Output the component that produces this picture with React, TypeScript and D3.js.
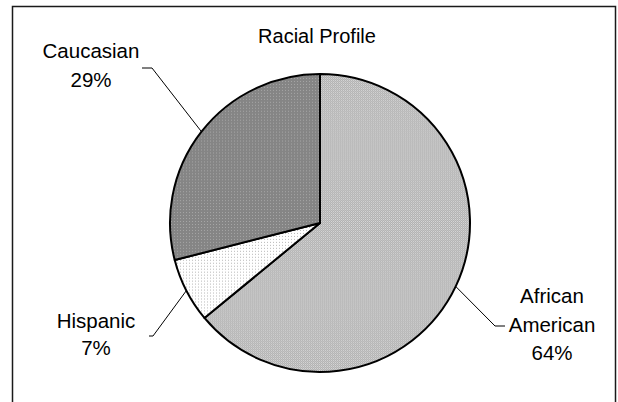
import React from "react";
import * as d3 from "d3";

const categories = ["African American", "Hispanic", "Caucasian"];
const values = [64, 7, 29];
const labelLines = [["African", "American", "64%"], ["Hispanic", "7%"], ["Caucasian", "29%"]];
const title = "Racial Profile";

const W = 618;
const H = 402;
const cx = 320;
const cy = 223;
const rx = 150;
const ry = 149;

// label layout: text centre, first baseline, line step, and leader elbow
const labelLayout = [
  { x: 552, y: 303, step: 28.5, elbow: [495, 326], end: [505, 326] },
  { x: 96, y: 328, step: 27, elbow: [153, 336], end: [149, 336] },
  { x: 91, y: 58, step: 29, elbow: [152, 68], end: [142, 68] },
];

const fills = ["url(#pAA)", "url(#pHi)", "url(#pCa)"];

export default function App() {
  const pie = d3.pie<number>().sort(null).value((d) => d);
  const arcs = pie(values);
  const arcGen = d3.arc<d3.PieArcDatum<number>>().innerRadius(0).outerRadius(rx);
  const font = "'Liberation Sans', Arial, sans-serif";

  return (
    <svg width={W} height={H} style={{ position: "absolute", left: 0, top: 0 }}>
      <defs>
        <pattern id="pAA" width={2} height={2} patternUnits="userSpaceOnUse">
          <rect width={2} height={2} fill="#c4c4c4" />
          <rect x={0} y={0} width={1} height={1} fill="#b2b2b2" />
          <rect x={1} y={1} width={1} height={1} fill="#b2b2b2" />
          <rect x={1} y={0} width={1} height={1} fill="#d6d6d6" />
        </pattern>
        <pattern id="pHi" width={3} height={3} patternUnits="userSpaceOnUse">
          <rect width={3} height={3} fill="#ffffff" />
          <rect x={1} y={1} width={1} height={1} fill="#b8b8b8" />
        </pattern>
        <pattern id="pCa" width={3} height={3} patternUnits="userSpaceOnUse">
          <rect width={3} height={3} fill="#858585" />
          <rect x={1} y={1} width={1} height={1} fill="#a6a6a6" />
        </pattern>
      </defs>
      <rect x={0} y={0} width={W} height={H} fill="#ffffff" />
      <rect x={12.5} y={6.5} width={603} height={440} fill="none" stroke="#1a1a1a" strokeWidth={1.5} />
      <text x={317} y={43} textAnchor="middle" fontFamily={font} fontSize={20} fill="#000">
        {title}
      </text>
      <g transform={`translate(${cx},${cy}) scale(1,${ry / rx})`}>
        {arcs.map((a, i) => (
          <path
            key={categories[i]}
            d={arcGen(a) || ""}
            fill={fills[i]}
            stroke="#000"
            strokeWidth={2}
            strokeLinejoin="round"
          />
        ))}
      </g>
      {arcs.map((a, i) => {
        const mid = (a.startAngle + a.endAngle) / 2;
        const px = cx + rx * Math.sin(mid);
        const py = cy - ry * Math.cos(mid);
        const L = labelLayout[i];
        return (
          <g key={"lbl" + i}>
            <polyline
              points={`${px},${py} ${L.elbow[0]},${L.elbow[1]} ${L.end[0]},${L.end[1]}`}
              fill="none"
              stroke="#000"
              strokeWidth={1}
            />
            <text textAnchor="middle" fontFamily={font} fontSize={20.5} fill="#000">
              {labelLines[i].map((t, j) => (
                <tspan key={j} x={L.x} y={L.y + j * L.step}>
                  {t}
                </tspan>
              ))}
            </text>
          </g>
        );
      })}
    </svg>
  );
}
